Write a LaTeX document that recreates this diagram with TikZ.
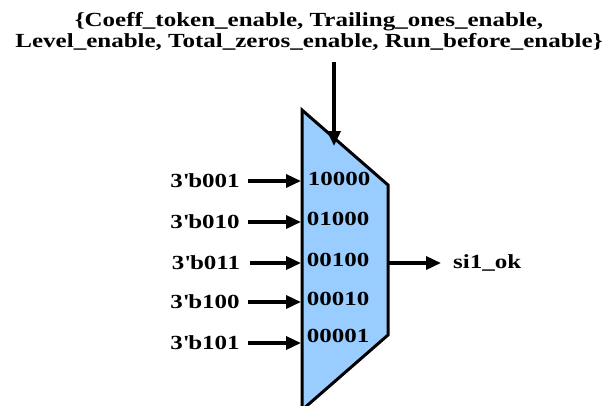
\documentclass[tikz,border=0pt]{standalone}
\usepackage{fontspec}
\setmainfont{Liberation Serif}[FakeStretch=1.25]
\usetikzlibrary{arrows.meta}
\definecolor{muxblue}{RGB}{153,204,255}
\begin{document}
\begin{tikzpicture}[x=1pt, y=-1pt,
  lbl/.style={font=\bfseries\fontsize{20}{21}\selectfont, inner sep=0pt},
  sig/.style={line width=3.5pt, -{Triangle[length=15pt,width=13pt]}}]
  \useasboundingbox (0,0) rectangle (607,405);
  \clip (0,0) rectangle (607,405);
  % mux body
  \draw[fill=muxblue, line width=3pt, line join=miter]
    (302,110) coordinate (tl) -- (388,185) coordinate (tr)
    -- (388,335) coordinate (br) -- (302,410) coordinate (bl) -- cycle;
  % select bus
  \node[lbl, align=center] (sel) at (309,32)
    {\{Coeff\_token\_enable, Trailing\_ones\_enable,\\
     Level\_enable, Total\_zeros\_enable, Run\_before\_enable\}};
  \coordinate (seltop) at (334,62);
  \coordinate (seltip) at (334,146);
  \draw[sig] (seltop) -- (seltip);
  % inputs
  \node[lbl] (in1) at (205,181) {3\textquotesingle b001};
  \node[lbl] (in2) at (205,222) {3\textquotesingle b010};
  \node[lbl] (in3) at (206,263) {3\textquotesingle b011};
  \node[lbl] (in4) at (205,302) {3\textquotesingle b100};
  \node[lbl] (in5) at (205,343) {3\textquotesingle b101};
  \coordinate (p1) at (301,181);
  \coordinate (p2) at (301,222);
  \coordinate (p3) at (301,263);
  \coordinate (p4) at (301,302);
  \coordinate (p5) at (301,343);
  \draw[sig] (248,181) -- (p1);
  \draw[sig] (248,222) -- (p2);
  \draw[sig] (250,263) -- (p3);
  \draw[sig] (248,302) -- (p4);
  \draw[sig] (248,343) -- (p5);
  % one-hot codes
  \node[lbl] (c1) at (339,179) {10000};
  \node[lbl] (c2) at (338,219) {01000};
  \node[lbl] (c3) at (338,260) {00100};
  \node[lbl] (c4) at (338,299) {00010};
  \node[lbl] (c5) at (338,336) {00001};
  % output
  \coordinate (o) at (389,263);
  \node[lbl, anchor=west] (out) at (453,263) {si1\_ok};
  \draw[sig] (o) -- (441,263);
\end{tikzpicture}
\end{document}
